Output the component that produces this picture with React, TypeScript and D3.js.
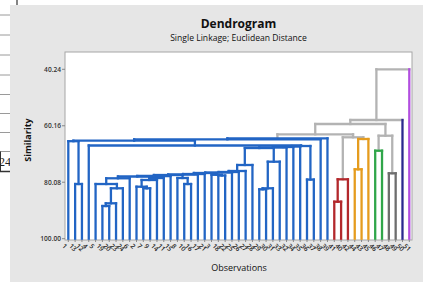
import React from 'react';
import * as d3 from 'd3';

// observation numbers, in the order the dendrogram puts them
const leafLabels = [
  1, 13, 12, 4, 5, 19, 20, 23, 24, 6, 2, 7, 9, 14, 11, 15, 8, 10, 16, 17,
  21, 3, 18, 22, 25, 26, 27, 28, 29, 30, 31, 33, 32, 34, 35, 36, 37, 38, 39, 41,
  40, 42, 44, 43, 45, 46, 47, 48, 49, 50, 51,
];

// amalgamation steps: [node, left, right, similarity]; numbers are leaf positions
const merges: [string, number | string, number | string, number][] = [
  ['g1a', 5, 6, 88.47],
  ['g1b', 'g1a', 7, 87.51],
  ['r1', 39, 40, 86.95],
  ['k1', 28, 29, 82.58],
  ['g1c', 'g1b', 8, 82.22],
  ['g2a', 11, 12, 82.22],
  ['k2', 'k1', 30, 82.22],
  ['g2b', 10, 'g2a', 81.66],
  ['b1', 1, 2, 80.71],
  ['g1d', 4, 'g1c', 80.71],
  ['p1', 17, 18, 80.71],
  ['g2c', 'g2b', 13, 79.29],
  ['v1', 35, 36, 79.14],
  ['red', 'r1', 41, 79.05],
  ['g1e', 'g1d', 9, 78.69],
  ['g2d', 'g2c', 14, 78.59],
  ['p2', 16, 'p1', 78.59],
  ['c1', 'g1e', 'g2d', 78.06],
  ['c2', 'c1', 15, 77.88],
  ['q1', 22, 23, 77.71],
  ['c3', 'c2', 'p2', 77.53],
  ['q2', 21, 'q1', 77.46],
  ['c4', 'c3', 19, 77.35],
  ['c5', 'c4', 20, 77.18],
  ['gray', 47, 48, 76.93],
  ['c6', 'c5', 'q2', 76.82],
  ['c7', 'c6', 24, 76.65],
  ['c8', 'c7', 25, 76.47],
  ['c9', 'c8', 26, 76.12],
  ['o1', 42, 43, 75.52],
  ['c10', 'c9', 27, 74.0],
  ['k3', 'k2', 31, 72.84],
  ['green', 45, 46, 68.96],
  ['u1', 'c10', 'k3', 68.01],
  ['u2', 'u1', 32, 67.83],
  ['u3', 'u2', 33, 67.65],
  ['u4', 'u3', 34, 67.48],
  ['u5', 'u4', 'v1', 67.3],
  ['u6', 3, 'u5', 67.12],
  ['b2', 0, 'b1', 65.6],
  ['u7', 'b2', 'u6', 65.43],
  ['u8', 'u7', 37, 64.94],
  ['orange', 'o1', 44, 64.83],
  ['blue', 'u8', 38, 64.59],
  ['ro', 'red', 'orange', 64.23],
  ['gg', 'green', 'gray', 63.67],
  ['x1', 'blue', 'ro', 63.17],
  ['x2', 'x1', 'gg', 59.54],
  ['x3', 'x2', 49, 58.13],
  ['x4', 'x3', 50, 40.24],
];

// final partition: each entry is the root of one cluster
const clusterRoots: (number | string)[] = ['blue', 'red', 'orange', 'green', 'gray', 49, 50];

const yTicks = [40.24, 60.16, 80.08, 100.0];

const clusterColors = ['#2265c4', '#b3282c', '#e59c1e', '#30a64a', '#6e6e6e', '#2a2a8e', '#b24ee0'];
const linkColor = '#b3b3b3';
const font = '"Open Sans", "Noto Sans", sans-serif';

const W = 423;
const H = 282;
const frame = { left: 65, top: 52, right: 412, bottom: 240 };

type Node = { x: number; y: number; leaf: boolean; kids: (number | string)[] };

export default function App() {
  const x = d3.scalePoint<string>().domain(leafLabels.map(String)).range([68.3, 409.3]);
  const y = d3.scaleLinear().domain([40.24, 100]).range([69.3, 238.7]);

  const nodes = new Map<number | string, Node>();
  leafLabels.forEach((lab, i) => nodes.set(i, { x: x(String(lab))!, y: y(100), leaf: true, kids: [] }));
  merges.forEach(([id, a, b, s]) => {
    const na = nodes.get(a)!;
    const nb = nodes.get(b)!;
    nodes.set(id, { x: (na.x + nb.x) / 2, y: y(s), leaf: false, kids: [a, b] });
  });

  // which cluster each node belongs to
  const cluster = new Map<number | string, number>();
  const mark = (id: number | string, c: number) => {
    cluster.set(id, c);
    nodes.get(id)!.kids.forEach(k => mark(k, c));
  };
  clusterRoots.forEach((r, i) => mark(r, i));
  const colorOf = (id: number | string) => (cluster.has(id) ? clusterColors[cluster.get(id)!] : linkColor);

  const segs: { x1: number; y1: number; x2: number; y2: number; c: string }[] = [];
  merges.forEach(([id, a, b]) => {
    const n = nodes.get(id)!;
    const na = nodes.get(a)!;
    const nb = nodes.get(b)!;
    const inside = cluster.has(id);
    segs.push({ x1: na.x, y1: n.y, x2: nb.x, y2: n.y, c: colorOf(id) });
    [[a, na], [b, nb]].forEach(([k, nk]: any) => {
      const c = inside ? colorOf(id) : nk.leaf ? colorOf(k) : linkColor;
      segs.push({ x1: nk.x, y1: nk.y, x2: nk.x, y2: n.y, c });
    });
  });
  const ordered = [...segs.filter(s => s.c === linkColor), ...segs.filter(s => s.c !== linkColor)];

  const sheetRows = [15, 35, 55, 75, 94.5, 113.5, 132.5];

  return (
    <svg width={W} height={H} style={{ position: 'absolute', left: 0, top: 0 }}>
      <rect x={0} y={0} width={W} height={H} fill="#ffffff" />
      {/* bits of the worksheet behind the graph window */}
      {sheetRows.map(r => (
        <line key={r} x1={0} x2={10} y1={r} y2={r} stroke="#9a9a9a" strokeWidth={1} />
      ))}
      <line x1={0} x2={10} y1={151.5} y2={151.5} stroke="#9a9a9a" />
      <line x1={0} x2={10} y1={171.5} y2={171.5} stroke="#333" strokeWidth={1.5} />
      <line x1={0.5} x2={0.5} y1={151.5} y2={171.5} stroke="#333" />
      <text x={-1} y={166} fontFamily="Liberation Serif, serif" fontSize={12} fill="#222">24</text>
      <line x1={17} x2={17} y1={0} y2={5} stroke="#333" strokeWidth={1.2} />

      <rect x={10} y={5} width={W - 10} height={H - 5} fill="#e6e6e6" />

      <text x={238.5} y={28} textAnchor="middle" fontFamily={font} fontSize={12} fontWeight={700} fill="#111">
        Dendrogram
      </text>
      <text x={238.5} y={41} textAnchor="middle" fontFamily={font} fontSize={8.6} fill="#111">
        Single Linkage; Euclidean Distance
      </text>

      <rect
        x={frame.left}
        y={frame.top}
        width={frame.right - frame.left}
        height={frame.bottom - frame.top}
        fill="#fff"
        stroke="#a6a6a6"
        strokeWidth={1}
      />

      {yTicks.map(t => (
        <g key={t}>
          <line x1={frame.left - 3} x2={frame.left} y1={y(t)} y2={y(t)} stroke="#888" />
          <text
            x={frame.left - 4}
            y={y(t) + 2.3}
            textAnchor="end"
            fontFamily={font}
            fontSize={6.6}
            fontWeight={600}
            fill="#333"
          >
            {t.toFixed(2)}
          </text>
        </g>
      ))}

      {leafLabels.map(l => (
        <g key={l}>
          <line x1={x(String(l))} x2={x(String(l))} y1={frame.bottom} y2={frame.bottom + 2} stroke="#888" />
          <text
            transform={`translate(${x(String(l))! - 2.5},${frame.bottom + 2.5}) rotate(45)`}
            fontFamily={font}
            fontSize={6.6}
            fontWeight={600}
            fill="#222"
            dominantBaseline="hanging"
          >
            {l}
          </text>
        </g>
      ))}

      {ordered.map((s, i) => (
        <line key={i} x1={s.x1} y1={s.y1} x2={s.x2} y2={s.y2} stroke={s.c} strokeWidth={2.3} strokeLinecap="square" />
      ))}

      <text
        transform="translate(31,140) rotate(-90)"
        textAnchor="middle"
        fontFamily={font}
        fontSize={9}
        fontWeight={700}
        fill="#111"
      >
        Similarity
      </text>
      <text x={239} y={271} textAnchor="middle" fontFamily={font} fontSize={9} fill="#111">
        Observations
      </text>
    </svg>
  );
}
